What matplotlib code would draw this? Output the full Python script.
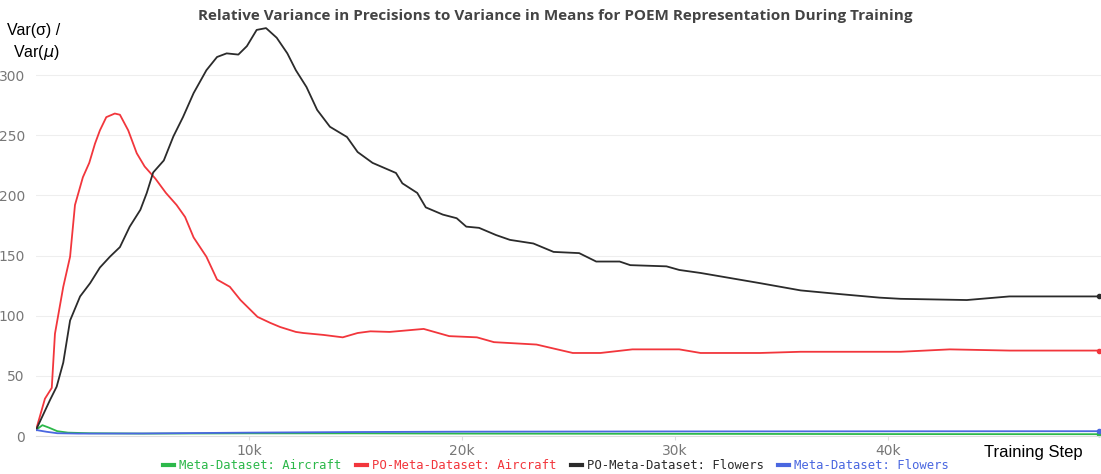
import numpy as np
import matplotlib
matplotlib.use("Agg")
import matplotlib.pyplot as plt

# steps in thousands
po_air_steps = [0, 0.42, 0.74, 0.89, 1.28, 1.6, 1.83, 2.2, 2.5, 2.77, 3.0, 3.3, 3.7, 3.94, 4.33,
                4.73, 5.1, 5.6, 6.1, 6.6, 7.0, 7.4, 8.0, 8.5, 9.1, 9.6, 10.4, 11.0, 11.46, 12.2,
                12.55, 13.5, 14.4, 15.1, 15.7, 16.6, 18.2, 19.4, 20.7, 21.5, 23.5, 25.2, 26.5,
                28.0, 30.2, 31.2, 34.0, 35.9, 38.2, 40.6, 42.9, 45.7, 47.6, 49.9]
po_air_vals = [5, 31, 40, 85, 124, 149, 192, 215, 227, 243, 254, 265, 268, 267, 254,
               235, 224, 214, 202, 192, 182, 165, 149, 130, 124, 113, 99, 94, 90.6, 86.5,
               85.6, 84, 82, 85.6, 87, 86.5, 89, 83, 82, 78, 76, 69, 69,
               72, 72, 69, 69, 70, 70, 70, 72, 71, 71, 71]

po_flw_steps = [0, 0.66, 0.97, 1.28, 1.6, 2.07, 2.54, 3.0, 3.47, 3.94, 4.4, 4.9, 5.2, 5.5, 6.0,
                6.45, 6.9, 7.4, 8.0, 8.5, 8.95, 9.5, 9.9, 10.36, 10.8, 11.3, 11.8, 12.2, 12.7,
                13.2, 13.8, 14.6, 15.1, 15.8, 16.9, 17.2, 17.9, 18.3, 19.1, 19.75, 20.2, 20.8,
                21.6, 22.25, 23.35, 24.3, 25.5, 26.3, 27.4, 27.9, 29.6, 30.2, 31.2, 34.0, 35.9,
                37.7, 39.6, 40.6, 43.7, 45.7, 47.6, 49.9]
po_flw_vals = [5, 30, 41, 61, 96, 116, 127, 140, 149, 157, 174, 188, 202, 219, 229,
               249, 265, 285, 304, 315, 318, 317, 324, 337.5, 339, 331, 318, 304, 290,
               271, 257, 248.5, 236, 227, 218.6, 210, 202, 190, 184, 181, 174, 173,
               167, 163, 160, 153, 152, 145, 145, 142, 141, 138, 135.5, 127, 121,
               118, 115, 114, 113, 116, 116, 116]

md_air_steps = [0, 0.3, 0.6, 1.0, 1.5, 2.5, 5, 10, 15, 20, 30, 40, 49.9]
md_air_vals = [5, 9, 7, 4, 2.8, 2.3, 2.0, 2.2, 2.2, 2.0, 1.8, 1.6, 1.5]

md_flw_steps = [0, 0.5, 1.0, 2.0, 5, 10, 15, 20, 30, 40, 49.9]
md_flw_vals = [5, 3.5, 2.3, 2.0, 2.1, 2.8, 3.3, 3.6, 3.8, 3.9, 4.0]

series = [
    ("Meta-Dataset: Aircraft", md_air_steps, md_air_vals, "#2cb84a"),
    ("PO-Meta-Dataset: Aircraft", po_air_steps, po_air_vals, "#f2363c"),
    ("PO-Meta-Dataset: Flowers", po_flw_steps, po_flw_vals, "#2b2b2b"),
    ("Meta-Dataset: Flowers", md_flw_steps, md_flw_vals, "#4a67e0"),
]

fig = plt.figure(figsize=(11.01, 4.74), dpi=100)
ax = fig.add_axes([36 / 1101, 38 / 474, 1065 / 1101, 411.5 / 474])

for label, xs, ys, col in series:
    xs = np.array(xs) * 1000
    ax.plot(xs, ys, color=col, lw=1.3, label=label)
    ax.plot(xs[-1], ys[-1], "o", color=col, ms=3, clip_on=False)

ax.set_xlim(0, 50000)
ax.set_ylim(0, 342)
ax.set_yticks([0, 50, 100, 150, 200, 250, 300])
ax.set_xticks([10000, 20000, 30000, 40000])
ax.set_xticklabels(["10k", "20k", "30k", "40k"])
ax.grid(axis="y", color="#eeeeee", lw=0.8)
ax.set_axisbelow(True)
for s in ["top", "right", "left"]:
    ax.spines[s].set_visible(False)
ax.spines["bottom"].set_color("#dddddd")
ax.tick_params(axis="y", length=0, labelsize=10, labelcolor="#777777", pad=8)
ax.tick_params(axis="x", length=3, color="#dddddd", labelsize=10, labelcolor="#777777", pad=3)

fig.text(0.504, 0.966, "Relative Variance in Precisions to Variance in Means for POEM Representation During Training",
         ha="center", va="center", fontsize=11, fontweight="bold", color="#444444", family="Open Sans")
fig.text(0.006, 0.935, "Var(σ) /", fontsize=11.5, family="Liberation Sans", va="center")
fig.text(0.012, 0.89, r"Var($\mu$)", fontsize=11.5, family="Liberation Sans", va="center")
fig.text(0.983, 0.045, "Training Step", fontsize=12, family="Liberation Sans", ha="right", va="center")

leg = fig.legend(loc="center", bbox_to_anchor=(0.505, 0.017), ncol=4, frameon=False,
                 prop={"family": "DejaVu Sans Mono", "size": 8.8}, handlelength=0.9,
                 handletextpad=0.4, columnspacing=1.2, labelcolor="linecolor")
for h in leg.get_lines():
    h.set_linewidth(3)

fig.savefig("out.png", dpi=100)
